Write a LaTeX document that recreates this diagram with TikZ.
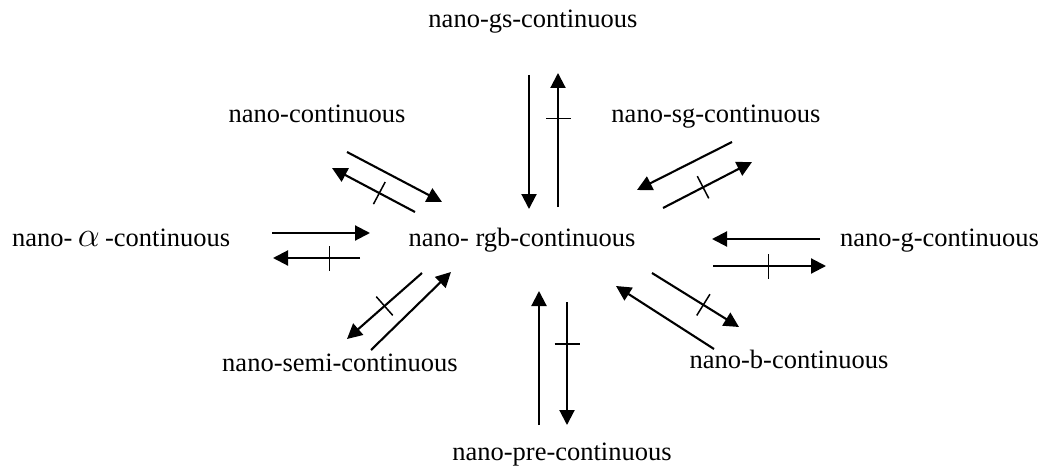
\documentclass[tikz,border=0pt]{standalone}
\usepackage{fontspec}
\setmainfont{Liberation Serif}
\usetikzlibrary{arrows.meta}
\begin{document}
\begin{tikzpicture}[x=1pt,y=-1pt,
  lbl/.style={anchor=base,inner sep=0pt,font=\fontsize{26.5}{30}\selectfont},
  arr/.style={line width=2.1pt,-{Triangle[length=15pt,width=15pt]}},
  tick/.style={sloped,inner sep=0pt,anchor=center},
]
\useasboundingbox (0,0) rectangle (1040,468);
\newcommand{\tickbar}{\rule[-12.5pt]{1.5pt}{25pt}}

% labels
\node[lbl] (rgb)  at (522,246) {nano- rgb-continuous};
\node[lbl] (gs)   at (533,28)  {nano-gs-continuous};
\node[lbl] (cont) at (317,122) {nano-continuous};
\node[lbl] (sg)   at (716,122) {nano-sg-continuous};
\node[lbl,anchor=base west] (alpha) at (12,246)
  {nano-\hspace{0.2em}\scalebox{1.4}{$\alpha$}\hspace{0.2em}-continuous};
\node[lbl,anchor=base west] (g)     at (840,246) {nano-g-continuous};
\node[lbl] (semi) at (340,371) {nano-semi-continuous};
\node[lbl] (b)    at (789,368) {nano-b-continuous};
\node[lbl] (pre)  at (562,460) {nano-pre-continuous};

% arrow end points
\coordinate (gsA) at (529,75);  \coordinate (gsB) at (529,209);
\coordinate (gsC) at (558,207); \coordinate (gsD) at (558,73);
\coordinate (cA) at (347,152);  \coordinate (cB) at (442,202);
\coordinate (cC) at (415,212);  \coordinate (cD) at (332,168);
\coordinate (sA) at (732,142);  \coordinate (sB) at (637,190);
\coordinate (sC) at (663,208);  \coordinate (sD) at (752,162);
\coordinate (aA) at (272,233);  \coordinate (aB) at (370,233);
\coordinate (aC) at (360,258);  \coordinate (aD) at (273,258);
\coordinate (gA) at (820,239);  \coordinate (gB) at (712,239);
\coordinate (gC) at (713,266);  \coordinate (gD) at (826,266);
\coordinate (mA) at (422,273);  \coordinate (mB) at (347,339);
\coordinate (mC) at (371,350);  \coordinate (mD) at (451,272);
\coordinate (pA) at (539,425);  \coordinate (pB) at (539,291);
\coordinate (pC) at (567,302);  \coordinate (pD) at (567,425);
\coordinate (bA) at (652,273);  \coordinate (bB) at (739,327);
\coordinate (bC) at (714,349);  \coordinate (bD) at (616,286);

% implications and non-implications
\draw[arr] (gsA) -- (gsB);
\draw[arr] (gsC) -- (gsD) node[tick,pos=0.66] {\tickbar};
\draw[arr] (cA) -- (cB);
\draw[arr] (cC) -- (cD) node[tick,pos=0.43] {\tickbar};
\draw[arr] (sA) -- (sB);
\draw[arr] (sC) -- (sD) node[tick,pos=0.45] {\tickbar};
\draw[arr] (aA) -- (aB);
\draw[arr] (aC) -- (aD) node[tick,pos=0.35] {\tickbar};
\draw[arr] (gA) -- (gB);
\draw[arr] (gC) -- (gD) node[tick,pos=0.49] {\tickbar};
\draw[arr] (mA) -- (mB) node[tick,pos=0.5] {\tickbar};
\draw[arr] (mC) -- (mD);
\draw[arr] (pA) -- (pB);
\draw[arr] (pC) -- (pD) node[tick,pos=0.34] {\tickbar};
\draw[arr] (bA) -- (bB) node[tick,pos=0.59] {\tickbar};
\draw[arr] (bC) -- (bD);
\end{tikzpicture}
\end{document}
